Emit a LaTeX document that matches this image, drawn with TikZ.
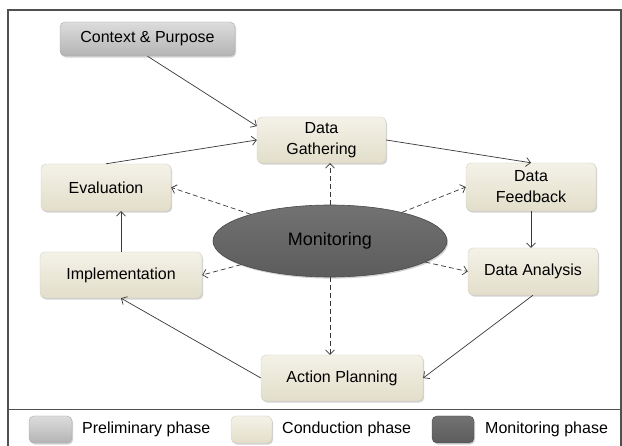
\documentclass[tikz,border=0pt]{standalone}
\usepackage{fontspec}
\setmainfont{Liberation Sans}
\usetikzlibrary{arrows.meta,shadows,calc,shapes.geometric}
\definecolor{creamtop}{HTML}{F4F2E8}
\definecolor{creambot}{HTML}{E2DECA}
\definecolor{creamline}{HTML}{D3D0BC}
\definecolor{greytop}{HTML}{DCDCDC}
\definecolor{greybot}{HTML}{B4B4B4}
\definecolor{greyline}{HTML}{A8A8A8}
\definecolor{darktop}{HTML}{727272}
\definecolor{darkbot}{HTML}{5C5C5C}
\definecolor{darkline}{HTML}{4A4A4A}
\definecolor{wire}{HTML}{383838}
\definecolor{framecol}{HTML}{505050}
\begin{document}
\begin{tikzpicture}[x=1pt,y=-1pt,
  font=\fontsize{16}{21}\selectfont,
  phasebox/.style={rounded corners=5pt, align=center, inner sep=0pt,
    text=black,
    drop shadow={shadow xshift=1.2pt, shadow yshift=-1.6pt, opacity=0.35}},
  conduct/.style={phasebox, top color=creamtop, bottom color=creambot, draw=creamline},
  prelim/.style={phasebox, top color=greytop, bottom color=greybot, draw=greyline},
  monit/.style={phasebox, top color=darktop, bottom color=darkbot, draw=darkline},
  flow/.style={draw=wire, line width=0.7pt, -{Straight Barb[length=4.5pt,width=9pt]}},
  watch/.style={flow, dash pattern=on 5pt off 3pt},
  legendtxt/.style={anchor=west, inner sep=0pt, text=black}
]
\useasboundingbox (0,0) rectangle (622,446);
\fill[white] (0,0) rectangle (622,446);

% outer frame and legend separator
\draw[framecol, line width=1.1pt] (8,446) -- (8,10) -- (621,10) -- (621,446);
\coordinate (sepL) at (8,410);
\coordinate (sepR) at (621,410);
\draw[framecol, line width=1pt] (sepL) -- (sepR);

% phase boxes
\node[prelim, minimum width=175pt, minimum height=34pt] (cp) at (147.5,39) {Context \& Purpose};
\node[conduct, minimum width=129pt, minimum height=46pt] (dg) at (321.5,140) {Data\\Gathering};
\node[conduct, minimum width=130pt, minimum height=47pt] (ev) at (106,187.5) {Evaluation};
\node[conduct, minimum width=162pt, minimum height=46pt] (im) at (121,275) {Implementation};
\node[conduct, minimum width=130pt, minimum height=48pt] (df) at (531,187) {Data\\Feedback};
\node[conduct, minimum width=130pt, minimum height=47pt] (da) at (533,271.5) {Data Analysis};
\node[conduct, minimum width=162pt, minimum height=46pt] (ap) at (342,378) {Action Planning};

% monitoring hub
\node[ellipse, top color=darktop, bottom color=darkbot, draw=darkline, line width=0.6pt,
      minimum width=234pt, minimum height=72pt, inner sep=0pt, text=black,
      font=\fontsize{18}{22}\selectfont,
      drop shadow={shadow xshift=1.2pt, shadow yshift=-1.6pt, opacity=0.35}]
      (mon) at (330,241) {Monitoring};

% main cycle
\draw[flow] (cp.south) -- ($(dg.north west)!0.2!(dg.south west)$);
\draw[flow] (ev.north) -- (dg.west);
\draw[flow] (dg.east) -- (df.north);
\draw[flow] (df.south) -- (df.south |- da.north);
\draw[flow] (da.south) -- (ap.east);
\draw[flow] (ap.west) -- (im.south);
\draw[flow] (im.north) -- (im.north |- ev.south);

% monitoring links
\draw[watch] (mon.north) -- (mon.north |- dg.south);
\draw[watch] (mon) -- (ev.east);
\draw[watch] (mon) -- (im.east);
\draw[watch] (mon) -- (df.west);
\draw[watch] (mon) -- (da.west);
\draw[watch] (mon.south) -- (mon.south |- ap.north);

% legend
\node[prelim, minimum width=43pt, minimum height=27pt] (lg1) at (50.5,429.5) {};
\node[legendtxt] (lt1) at (82,429.5) {Preliminary phase};
\node[conduct, minimum width=41pt, minimum height=27pt] (lg2) at (251.5,429.5) {};
\node[legendtxt] (lt2) at (282,429.5) {Conduction phase};
\node[monit, minimum width=42pt, minimum height=27pt] (lg3) at (453,429.5) {};
\node[legendtxt] (lt3) at (485,429.5) {Monitoring phase};
\end{tikzpicture}
\end{document}
